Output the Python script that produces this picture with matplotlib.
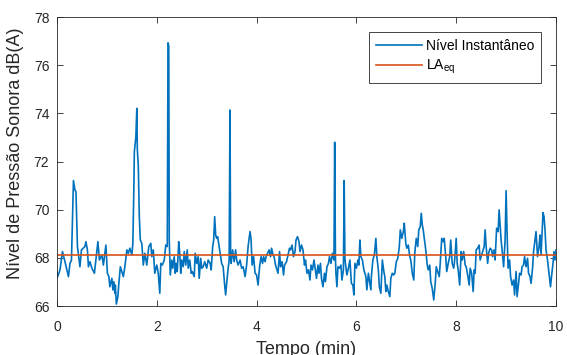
import matplotlib.pyplot as plt

plt.rcParams['font.family'] = ['Liberation Sans', 'DejaVu Sans']
plt.rcParams['mathtext.default'] = 'regular'

# time (min) and instantaneous level dB(A)
tempo = [0.0, 0.01, 0.06, 0.11, 0.16, 0.23, 0.26, 0.29, 0.33, 0.36, 0.38, 0.41,
         0.46, 0.49, 0.56, 0.58, 0.61, 0.63, 0.66, 0.70, 0.75, 0.82, 0.85, 0.90,
         0.93, 0.98, 1.01, 1.04, 1.06, 1.10, 1.12, 1.14, 1.16, 1.17, 1.19, 1.22,
         1.24, 1.27, 1.30, 1.33, 1.36, 1.40, 1.43, 1.46, 1.50, 1.52, 1.54, 1.55,
         1.58, 1.60, 1.61, 1.63, 1.65, 1.67, 1.70, 1.73, 1.76, 1.80, 1.84, 1.88,
         1.90, 1.93, 1.96, 2.00, 2.03, 2.06, 2.08, 2.11, 2.15, 2.18, 2.21, 2.225,
         2.24, 2.25, 2.27, 2.30, 2.32, 2.35, 2.37, 2.39, 2.41, 2.44, 2.46, 2.48,
         2.50, 2.53, 2.55, 2.58, 2.61, 2.63, 2.66, 2.69, 2.71, 2.75, 2.77, 2.80,
         2.83, 2.85, 2.88, 2.90, 2.93, 2.96, 3.00, 3.03, 3.07, 3.09, 3.12, 3.14,
         3.16, 3.18, 3.20, 3.22, 3.25, 3.27, 3.30, 3.33, 3.36, 3.38, 3.40, 3.42,
         3.45, 3.467, 3.48, 3.49, 3.52, 3.55, 3.58, 3.60, 3.63, 3.67, 3.70, 3.73,
         3.77, 3.80, 3.83, 3.85, 3.87, 3.89, 3.91, 3.94, 3.97, 4.00, 4.03, 4.06,
         4.09, 4.12, 4.14, 4.17, 4.19, 4.22, 4.25, 4.28, 4.30, 4.33, 4.35, 4.38,
         4.40, 4.43, 4.46, 4.48, 4.51, 4.54, 4.56, 4.60, 4.63, 4.66, 4.68, 4.71,
         4.74, 4.77, 4.79, 4.82, 4.85, 4.87, 4.90, 4.93, 4.96, 4.98, 5.01, 5.04,
         5.07, 5.09, 5.12, 5.15, 5.17, 5.20, 5.23, 5.25, 5.28, 5.30, 5.33, 5.36,
         5.38, 5.41, 5.44, 5.46, 5.49, 5.52, 5.55, 5.565, 5.58, 5.59, 5.61, 5.63,
         5.66, 5.69, 5.71, 5.74, 5.755, 5.77, 5.78, 5.81, 5.84, 5.87, 5.90, 5.93,
         5.95, 5.97, 6.00, 6.03, 6.05, 6.07, 6.09, 6.12, 6.15, 6.17, 6.19, 6.21,
         6.24, 6.26, 6.29, 6.30, 6.33, 6.36, 6.39, 6.41, 6.44, 6.46, 6.49, 6.52,
         6.55, 6.57, 6.59, 6.61, 6.64, 6.67, 6.69, 6.72, 6.75, 6.77, 6.80, 6.83,
         6.86, 6.88, 6.91, 6.94, 6.96, 6.99, 7.01, 7.04, 7.07, 7.09, 7.12, 7.15,
         7.17, 7.20, 7.23, 7.25, 7.28, 7.30, 7.32, 7.34, 7.36, 7.39, 7.42, 7.44,
         7.47, 7.49, 7.52, 7.55, 7.58, 7.60, 7.63, 7.66, 7.68, 7.71, 7.74, 7.76,
         7.79, 7.81, 7.84, 7.87, 7.89, 7.92, 7.95, 7.97, 8.00, 8.02, 8.04, 8.07,
         8.10, 8.12, 8.15, 8.18, 8.20, 8.23, 8.26, 8.28, 8.31, 8.34, 8.36, 8.38,
         8.40, 8.43, 8.46, 8.48, 8.51, 8.53, 8.56, 8.58, 8.60, 8.63, 8.65, 8.68,
         8.71, 8.73, 8.76, 8.78, 8.81, 8.84, 8.86, 8.90, 8.92, 8.95, 8.98, 9.00,
         9.02, 9.04, 9.07, 9.09, 9.12, 9.15, 9.17, 9.20, 9.22, 9.25, 9.27, 9.30,
         9.32, 9.35, 9.37, 9.40, 9.43, 9.45, 9.48, 9.50, 9.53, 9.55, 9.58, 9.60,
         9.63, 9.66, 9.68, 9.70, 9.72, 9.74, 9.76, 9.78, 9.80, 9.83, 9.86, 9.89,
         9.91, 9.94, 9.96, 9.98, 10.0]

nivel = [67.36, 67.20, 67.50, 68.26, 67.84, 67.22, 67.77, 67.90, 71.21, 70.82, 70.75, 68.47,
         67.63, 68.33, 68.47, 68.67, 68.33, 67.63, 67.84, 67.57, 67.36, 68.67, 67.91, 68.12,
         67.70, 68.53, 67.36, 67.22, 66.80, 67.15, 66.67, 67.01, 66.53, 66.87, 66.08, 66.39,
         66.94, 67.63, 67.43, 67.22, 67.63, 68.33, 68.19, 68.40, 68.12, 68.60, 70.80, 72.40,
         73.00, 74.21, 72.50, 71.80, 69.70, 68.74, 68.60, 67.70, 68.19, 67.70, 68.47, 68.60,
         68.05, 68.33, 67.36, 67.70, 67.36, 66.53, 67.77, 67.70, 67.91, 68.53, 68.47, 76.93,
         76.80, 68.74, 67.29, 67.91, 67.57, 68.05, 67.36, 67.77, 67.43, 68.67, 68.19, 67.36,
         67.91, 67.63, 68.26, 67.70, 68.33, 67.57, 67.91, 67.36, 67.43, 67.22, 68.19, 67.77,
         68.05, 67.15, 67.98, 67.57, 67.63, 67.84, 67.57, 67.91, 67.77, 67.50, 68.47, 68.74,
         69.71, 68.95, 68.81, 68.88, 68.47, 68.19, 67.77, 67.63, 66.87, 66.46, 66.94, 67.36,
         67.91, 74.14, 68.00, 67.77, 68.33, 67.84, 68.33, 67.91, 67.70, 67.91, 67.57, 67.63,
         67.22, 67.70, 68.47, 68.81, 69.09, 68.74, 67.70, 68.05, 67.36, 67.29, 66.87, 67.63,
         68.05, 67.77, 68.05, 67.84, 68.05, 68.19, 68.33, 68.05, 68.40, 68.12, 68.05, 67.70,
         67.57, 67.36, 68.26, 67.63, 67.84, 67.29, 67.70, 67.84, 68.12, 68.40, 68.33, 68.53,
         68.05, 68.26, 68.74, 68.88, 68.67, 68.26, 68.53, 68.33, 67.70, 67.91, 67.36, 67.50,
         67.08, 67.70, 67.50, 67.91, 67.63, 67.15, 67.70, 67.36, 67.77, 67.15, 66.80, 67.36,
         67.01, 67.63, 67.77, 68.05, 67.77, 68.19, 67.91, 72.80, 68.00, 67.36, 66.80, 67.63,
         67.57, 67.70, 67.08, 67.50, 71.21, 68.00, 67.77, 67.29, 67.57, 67.91, 66.94, 66.87,
         66.46, 67.77, 67.57, 67.91, 67.70, 68.74, 68.05, 67.91, 67.50, 67.36, 67.22, 66.67,
         67.36, 67.08, 66.67, 67.22, 67.91, 68.12, 68.81, 68.05, 67.50, 66.80, 66.53, 67.91,
         67.43, 67.22, 66.60, 66.87, 66.60, 66.39, 67.15, 67.36, 67.29, 67.36, 67.84, 67.98,
         68.47, 69.16, 68.81, 69.09, 69.44, 68.60, 68.40, 68.53, 68.05, 67.91, 67.36, 67.08,
         68.19, 68.81, 68.47, 69.16, 69.30, 69.85, 69.37, 69.16, 68.81, 68.33, 67.70, 67.50,
         67.70, 67.01, 66.73, 66.25, 66.94, 67.63, 67.43, 67.22, 67.77, 68.81, 68.67, 68.81,
         68.05, 67.43, 67.77, 68.05, 68.74, 67.77, 67.57, 67.91, 68.81, 67.77, 67.50, 66.87,
         68.26, 67.91, 68.26, 67.70, 67.63, 67.29, 66.87, 67.57, 67.36, 66.60, 67.50, 67.36,
         68.33, 68.40, 68.53, 67.91, 68.12, 68.26, 68.47, 69.16, 68.47, 67.77, 68.19, 68.40,
         68.33, 68.05, 68.33, 67.91, 69.23, 69.09, 69.99, 68.74, 68.33, 67.63, 68.74, 70.79,
         69.02, 67.57, 67.91, 67.22, 66.87, 67.08, 66.46, 67.43, 66.39, 66.94, 67.36, 67.29,
         67.63, 67.70, 68.05, 67.63, 67.98, 67.36, 67.22, 66.94, 67.57, 68.26, 68.74, 69.09,
         68.05, 68.47, 68.95, 68.12, 69.02, 69.88, 69.71, 69.16, 68.33, 67.91, 67.36, 66.80,
         67.22, 67.77, 68.26, 67.91, 68.33]

laeq = 68.1


def desenhar():
    fig = plt.figure(figsize=(5.67, 3.55), dpi=100)
    ax = fig.add_axes([0.1005, 0.138, 0.8801, 0.814])
    ax.plot(tempo, nivel, color='#0072BD', linewidth=1.2, label='Nível Instantâneo')
    ax.plot([tempo[0], tempo[-1]], [laeq, laeq], color='#D95319', linewidth=1.2,
            label='LA$_{eq}$')
    ax.set_xlim(0, 10)
    ax.set_ylim(66, 78)
    ax.set_xticks(range(0, 11, 2))
    ax.set_yticks(range(66, 79, 2))
    ax.tick_params(direction='in', top=True, right=True, length=4, width=0.6,
                   labelsize=10, colors='#262626')
    ax.tick_params(axis='x', pad=10)
    ax.tick_params(axis='y', pad=5.5)
    for s in ax.spines.values():
        s.set_linewidth(0.6)
        s.set_color('#262626')
    ax.set_xlabel('Tempo (min)', fontsize=13, color='#262626')
    ax.set_ylabel('Nível de Pressão Sonora dB(A)', fontsize=13, color='#262626')
    ax.xaxis.set_label_coords(0.5, -0.122)
    ax.yaxis.set_label_coords(-0.066, 0.53)
    leg = ax.legend(loc='upper right', bbox_to_anchor=(0.970, 0.948), borderaxespad=0,
                    fontsize=10, fancybox=False, framealpha=1, handlelength=3.3,
                    handletextpad=0.3, borderpad=0.5, labelspacing=0.35)
    leg.get_frame().set_edgecolor('#262626')
    leg.get_frame().set_linewidth(0.6)
    fig.savefig('out.png', dpi=100)


desenhar()
